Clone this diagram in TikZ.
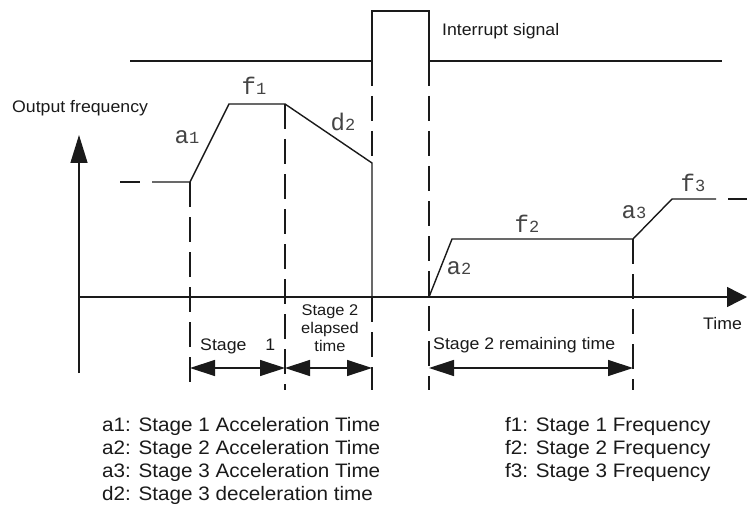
\documentclass[tikz,border=0pt]{standalone}
\usepackage{fontspec}
\setmainfont{Liberation Sans}[FakeStretch=1.06]
\newfontfamily\lblfont{Liberation Mono}
\usetikzlibrary{arrows.meta}
\definecolor{ink}{HTML}{1A1A1A}
\definecolor{lblc}{HTML}{444444}
\newcommand{\myfs}[1]{\fontsize{#1}{#1}\selectfont}
\newcommand{\lab}[2]{{\lblfont\myfs{24}#1\myfs{17}#2}}
\begin{document}
\begin{tikzpicture}[x=1pt,y=-1pt,
  curve/.style={line width=1.4pt, draw=ink, line join=miter},
  dline/.style={line width=1.3pt, draw=ink, dash pattern=on 25pt off 10pt},
  axis/.style={line width=1.4pt, draw=ink},
  dimarrow/.style={line width=1.3pt, draw=ink,
     {Triangle[length=25pt,width=16pt]}-{Triangle[length=25pt,width=16pt]}},
  txt/.style={inner sep=0pt, anchor=base west, text=ink, font=\myfs{16.7}},
  legend/.style={inner sep=0pt, anchor=base west, text=ink, font=\myfs{19.5}},
  flab/.style={inner sep=0pt, anchor=base, text=lblc}]
\useasboundingbox (0,0) rectangle (747,508);
\fill[white] (0,0) rectangle (747,508);

% key points
\coordinate (o) at (79,297);
\coordinate (yb) at (79,373);
\coordinate (yt) at (79,135);
\coordinate (xt) at (747,297);
% interrupt signal
\coordinate (i0) at (130,61);
\coordinate (i1) at (372,61);
\coordinate (i2) at (372,11);
\coordinate (i3) at (429,11);
\coordinate (i4) at (429,61);
\coordinate (i5) at (722,61);
% frequency curve
\coordinate (p0a) at (120,182);
\coordinate (p0b) at (140,182);
\coordinate (p0c) at (152,182);
\coordinate (p1) at (190,182);
\coordinate (p2) at (229,104);
\coordinate (p3) at (285,104);
\coordinate (p4) at (372,163);
\coordinate (p5) at (372,297);
\coordinate (q0) at (429,297);
\coordinate (q1) at (452,239);
\coordinate (q2) at (633,239);
\coordinate (q3) at (672,199);
\coordinate (q4) at (716,199);
\coordinate (q5a) at (728,199);
\coordinate (q5b) at (747,199);
% bottom of guide lines
\coordinate (b1) at (190,390);
\coordinate (b2) at (285,390);
\coordinate (b3) at (372,390);
\coordinate (b4) at (429,390);
\coordinate (b5) at (633,390);
% dimension arrows
\coordinate (d1) at (190,368);
\coordinate (d2) at (285,368);
\coordinate (d3) at (372,368);
\coordinate (d4) at (429,368);
\coordinate (d5) at (633,368);

% axes
\draw[axis, -{Triangle[length=28pt,width=17pt]}] (yb) -- (yt);
\draw[axis, -{Triangle[length=20pt,width=20pt]}] (o) -- (xt);

% interrupt signal line
\draw[curve] (i0) -- (i1) -- (i2) -- (i3) -- (i4) -- (i5);

% guide lines
\draw[dline] (p1) -- (b1);
\draw[dline] (p3) -- (b2);
\draw[dline] (i1) -- (p4);
\draw[dline] (p5) -- (b3);
\draw[dline] (i4) -- (b4);
\draw[dline] (q2) -- (b5);

% frequency curve
\draw[curve] (p0a) -- (p0b);
\draw[curve] (p0c) -- (p1) -- (p2) -- (p3) -- (p4) -- (p5);
\draw[curve] (q0) -- (q1) -- (q2) -- (q3) -- (q4);
\draw[curve] (q5a) -- (q5b);

% dimension arrows
\draw[dimarrow] (d1) -- (d2);
\draw[dimarrow] (d2) -- (d3);
\draw[dimarrow] (d4) -- (d5);

% curve labels
\node[flab] (la1) at (187,143) {\lab{a}{1}};
\node[flab] (lf1) at (254,95) {\lab{f}{1}};
\node[flab] (ld2) at (343,131) {\lab{d}{2}};
\node[flab] (la2) at (459,274) {\lab{a}{2}};
\node[flab] (lf2) at (527,232) {\lab{f}{2}};
\node[flab] (la3) at (634,218) {\lab{a}{3}};
\node[flab] (lf3) at (693,191) {\lab{f}{3}};

% texts
\node[txt] (tof) at (12,113) {Output frequency};
\node[txt] (tis) at (442,36) {Interrupt signal};
\node[txt] (ttm) at (703,329) {Time};
\node[txt] (ts1) at (200,350) {Stage\hspace{19pt}1};
\node[txt, anchor=base, font=\myfs{15.5}] (te1) at (330,315) {Stage 2};
\node[txt, anchor=base, font=\myfs{15.5}] (te2) at (330,333) {elapsed};
\node[txt, anchor=base, font=\myfs{15.5}] (te3) at (330,351) {time};
\node[txt] (trm) at (433,349) {Stage 2 remaining time};

% legend
\node[legend] (lg1) at (102,431) {a1: Stage 1 Acceleration Time};
\node[legend] (lg2) at (102,454.3) {a2: Stage 2 Acceleration Time};
\node[legend] (lg3) at (102,477.6) {a3: Stage 3 Acceleration Time};
\node[legend] (lg4) at (102,500.9) {d2: Stage 3 deceleration time};
\node[legend] (lg5) at (505,431) {f1: Stage 1 Frequency};
\node[legend] (lg6) at (505,454.3) {f2: Stage 2 Frequency};
\node[legend] (lg7) at (505,477.6) {f3: Stage 3 Frequency};
\end{tikzpicture}
\end{document}
